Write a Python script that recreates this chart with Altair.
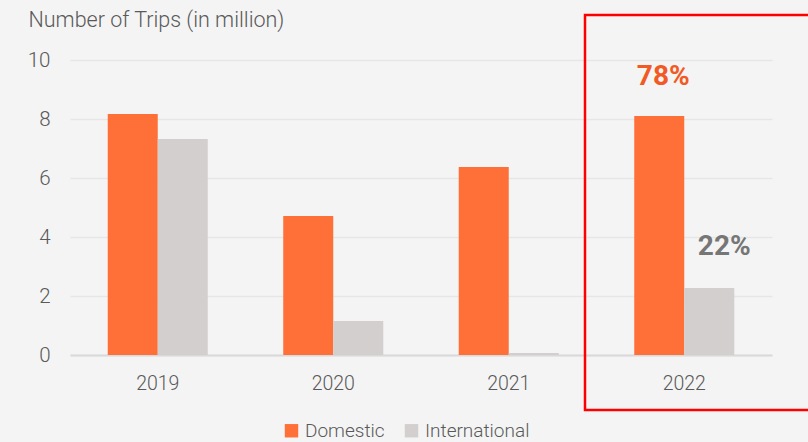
import altair as alt
import pandas as pd

years = ["2019", "2020", "2021", "2022"]
domestic = [8.17, 4.71, 6.37, 8.1]
international = [7.32, 1.15, 0.07, 2.27]
types = ["Domestic", "International"]
colors = ["#ff7038", "#d3cfce"]

rows = []
for i, y in enumerate(years):
    rows.append({"year": y, "type": "Domestic", "value": domestic[i]})
    rows.append({"year": y, "type": "International", "value": international[i]})
df = pd.DataFrame(rows)

ann = pd.DataFrame([
    {"year": "2022", "type": "Domestic", "value": domestic[3], "label": "78%"},
    {"year": "2022", "type": "International", "value": international[3], "label": "22%"},
])

FONT = "Roboto"
FW = 300

xenc = alt.X("year:N", sort=years,
             scale=alt.Scale(paddingInner=0.43, paddingOuter=0.215),
             axis=alt.Axis(title=None, labelAngle=0, labelFontSize=19.5, labelColor="#595959",
                           labelFont=FONT, labelFontWeight=FW, labelPadding=19, ticks=False,
                           domainColor="#d9d9d9", domainWidth=2))
xoff = alt.XOffset("type:N", sort=types, scale=alt.Scale(paddingInner=0, paddingOuter=0))

bars = alt.Chart(df).mark_bar().encode(
    x=xenc,
    xOffset=xoff,
    y=alt.Y("value:Q", scale=alt.Scale(domain=[0, 10]),
            axis=alt.Axis(values=[0, 2, 4, 6, 8, 10], title="Number of Trips (in million)",
                          titleAngle=0, titleX=-42, titleY=-29, titleAlign="left",
                          titleFontSize=21.5, titleFont=FONT, titleFontWeight=FW,
                          titleColor="#595959", labelFontSize=20.5, labelFont=FONT,
                          labelFontWeight=FW,
                          labelColor="#595959", labelPadding=20, ticks=False, domain=False,
                          gridColor="#e6e6e6", gridWidth=1.5)),
    color=alt.Color("type:N", sort=types, scale=alt.Scale(domain=types, range=colors),
                    legend=alt.Legend(title=None, orient="none", direction="horizontal",
                                      legendX=212, legendY=361, symbolType="square",
                                      symbolSize=180, symbolStrokeWidth=0, labelFontSize=19,
                                      labelFont=FONT, labelFontWeight=FW,
                                      labelColor="#595959", columnPadding=17,
                                      symbolOpacity=1)),
)

lab78 = alt.Chart(ann[ann["label"] == "78%"]).mark_text(
    fontSize=28, fontWeight="bold", font="Roboto", color="#f15a24", dy=-39, dx=4
).encode(x=alt.X("year:N", sort=years), xOffset=xoff, y="value:Q", text="label:N")

lab22 = alt.Chart(ann[ann["label"] == "22%"]).mark_text(
    fontSize=28, fontWeight="bold", font="Roboto", color="#767676", dy=-41, dx=15
).encode(x=alt.X("year:N", sort=years), xOffset=xoff, y="value:Q", text="label:N")

box = alt.Chart(pd.DataFrame({"k": [1]})).mark_rect(
    fill=None, stroke="#ff0000", strokeWidth=2.5
).encode(x=alt.value(515), x2=alt.value(745), y=alt.value(-45), y2=alt.value(350))

chart = alt.layer(bars, lab78, lab22, box).properties(
    width=702, height=295,
    autosize=alt.AutoSizeParams(type="none"),
    padding={"left": 70, "top": 60, "right": 36, "bottom": 87},
    background="#f4f4f4",
).configure_view(stroke=None)

chart.save("out.html", embed_options={"renderer": "svg", "actions": False})
